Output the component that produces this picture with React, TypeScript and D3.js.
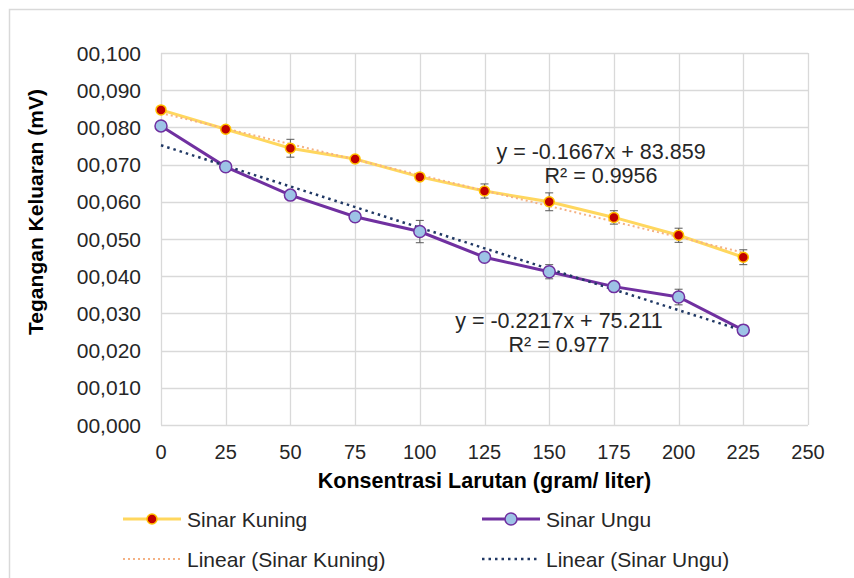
import React, { useEffect, useRef } from "react";
import * as d3 from "d3";

// concentration (gram/liter)
const konsentrasi = [0, 25, 50, 75, 100, 125, 150, 175, 200, 225];
const sinarKuning = [0.0847, 0.0795, 0.0744, 0.0715, 0.0667, 0.0629, 0.06, 0.0558, 0.051, 0.0451];
const errKuning = [0.0008, 0.0005, 0.0024, 0.0005, 0.0005, 0.0019, 0.0024, 0.0018, 0.0019, 0.002];
const sinarUngu = [0.0804, 0.0694, 0.0618, 0.056, 0.052, 0.0451, 0.0412, 0.0372, 0.0344, 0.0255];
const errUngu = [0.0005, 0.0005, 0.0005, 0.0005, 0.003, 0.0005, 0.0019, 0.0005, 0.0021, 0.0013];

// trendlines as labelled on the chart (y in mV * 1e-3)
const trendKuning = { slope: -0.1667, intercept: 83.859 };
const trendUngu = { slope: -0.2217, intercept: 75.211 };

const xTicks = [0, 25, 50, 75, 100, 125, 150, 175, 200, 225, 250];
const yTicks = [0, 0.01, 0.02, 0.03, 0.04, 0.05, 0.06, 0.07, 0.08, 0.09, 0.1];
const yTickLabels = ["00,000", "00,010", "00,020", "00,030", "00,040", "00,050", "00,060", "00,070", "00,080", "00,090", "00,100"];

const FONT = "'Liberation Sans', Arial, Helvetica, sans-serif";

export default function App() {
  const svgRef = useRef<SVGSVGElement>(null);

  useEffect(() => {
    const width = 854;
    const height = 578;
    const svg = d3.select(svgRef.current).attr("width", width).attr("height", height);
    svg.selectAll("*").remove();

    const x = d3.scaleLinear().domain([0, 250]).range([161, 808]);
    const y = d3.scaleLinear().domain([0, 0.1]).range([425, 53]);

    svg
      .append("rect")
      .attr("x", 9.5)
      .attr("y", 9.5)
      .attr("width", 900)
      .attr("height", 600)
      .attr("fill", "white")
      .attr("stroke", "#d9d9d9")
      .attr("stroke-width", 1.5);

    // grid
    svg
      .append("g")
      .selectAll("line")
      .data(yTicks)
      .enter()
      .append("line")
      .attr("x1", x(0))
      .attr("x2", x(250))
      .attr("y1", (d) => Math.round(y(d)) + 0.5)
      .attr("y2", (d) => Math.round(y(d)) + 0.5)
      .attr("stroke", "#d9d9d9")
      .attr("stroke-width", 1.3);
    svg
      .append("g")
      .selectAll("line")
      .data(xTicks)
      .enter()
      .append("line")
      .attr("x1", (d) => Math.round(x(d)) + 0.5)
      .attr("x2", (d) => Math.round(x(d)) + 0.5)
      .attr("y1", y(0.1))
      .attr("y2", y(0))
      .attr("stroke", "#d9d9d9")
      .attr("stroke-width", 1.3);

    // tick labels
    svg
      .append("g")
      .selectAll("text")
      .data(yTicks)
      .enter()
      .append("text")
      .attr("x", 141)
      .attr("y", (d) => y(d) + 7.5)
      .attr("text-anchor", "end")
      .style("font-family", FONT)
      .style("font-size", "21px")
      .attr("fill", "#262626")
      .text((d, i) => yTickLabels[i]);
    svg
      .append("g")
      .selectAll("text")
      .data(xTicks)
      .enter()
      .append("text")
      .attr("x", (d) => x(d))
      .attr("y", 459)
      .attr("text-anchor", "middle")
      .style("font-family", FONT)
      .style("font-size", "20px")
      .attr("fill", "#262626")
      .text((d) => d);

    // axis titles
    svg
      .append("text")
      .attr("x", (x(0) + x(250)) / 2)
      .attr("y", 488)
      .attr("text-anchor", "middle")
      .style("font-family", FONT)
      .style("font-size", "21.5px")
      .style("font-weight", "bold")
      .text("Konsentrasi Larutan (gram/ liter)");
    svg
      .append("text")
      .attr("transform", "translate(43, 212) rotate(-90)")
      .attr("text-anchor", "middle")
      .style("font-family", FONT)
      .style("font-size", "21px")
      .style("font-weight", "bold")
      .text("Tegangan Keluaran (mV)");

    const line = d3
      .line<number>()
      .x((d, i) => x(konsentrasi[i]))
      .y((d) => y(d));

    svg.append("path").attr("d", line(sinarKuning)).attr("fill", "none").attr("stroke", "#ffd75e").attr("stroke-width", 3);
    svg.append("path").attr("d", line(sinarUngu)).attr("fill", "none").attr("stroke", "#7030a0").attr("stroke-width", 3);

    // trendlines
    const xEnds = d3.extent(konsentrasi) as [number, number];
    const trend = (t: { slope: number; intercept: number }) =>
      d3
        .line<number>()
        .x((d) => x(d))
        .y((d) => y((t.slope * d + t.intercept) / 1000))(xEnds);
    svg
      .append("path")
      .attr("d", trend(trendKuning))
      .attr("fill", "none")
      .attr("stroke", "#f4b183")
      .attr("stroke-width", 2)
      .attr("stroke-dasharray", "2 3");
    svg
      .append("path")
      .attr("d", trend(trendUngu))
      .attr("fill", "none")
      .attr("stroke", "#203864")
      .attr("stroke-width", 2.5)
      .attr("stroke-dasharray", "2.5 4");

    // error bars
    const errorBars = (vals: number[], errs: number[]) => {
      const g = svg.append("g").attr("stroke", "#595959").attr("stroke-width", 1);
      vals.forEach((v, i) => {
        const cx = x(konsentrasi[i]);
        const y1 = y(v + errs[i]);
        const y2 = y(v - errs[i]);
        g.append("line").attr("x1", cx).attr("x2", cx).attr("y1", y1).attr("y2", y2);
        g.append("line").attr("x1", cx - 4).attr("x2", cx + 4).attr("y1", y1).attr("y2", y1);
        g.append("line").attr("x1", cx - 4).attr("x2", cx + 4).attr("y1", y2).attr("y2", y2);
      });
    };
    errorBars(sinarKuning, errKuning);
    errorBars(sinarUngu, errUngu);

    // markers
    svg
      .append("g")
      .selectAll("circle")
      .data(sinarKuning)
      .enter()
      .append("circle")
      .attr("cx", (d, i) => x(konsentrasi[i]))
      .attr("cy", (d) => y(d))
      .attr("r", 5)
      .attr("fill", "#c00000")
      .attr("stroke", "#ffc000")
      .attr("stroke-width", 1.5);
    svg
      .append("g")
      .selectAll("circle")
      .data(sinarUngu)
      .enter()
      .append("circle")
      .attr("cx", (d, i) => x(konsentrasi[i]))
      .attr("cy", (d) => y(d))
      .attr("r", 6)
      .attr("fill", "#9dc3e6")
      .attr("stroke", "#7030a0")
      .attr("stroke-width", 1.5);

    // equations
    const eq = (lines: string[], cx: number, y0: number) => {
      lines.forEach((t, i) => {
        svg
          .append("text")
          .attr("x", cx)
          .attr("y", y0 + i * 24)
          .attr("text-anchor", "middle")
          .style("font-family", FONT)
          .style("font-size", "21.5px")
          .attr("fill", "#262626")
          .text(t);
      });
    };
    eq(["y = -0.1667x + 83.859", "R² = 0.9956"], 601, 159);
    eq(["y = -0.2217x + 75.211", "R² = 0.977"], 559, 328);

    // legend
    const legend = [
      { label: "Sinar Kuning", x0: 123, y0: 519, color: "#ffd75e", dash: null, w: 3, marker: ["#c00000", "#ffc000", 5] },
      { label: "Sinar Ungu", x0: 482, y0: 519, color: "#7030a0", dash: null, w: 3, marker: ["#9dc3e6", "#7030a0", 6] },
      { label: "Linear (Sinar Kuning)", x0: 123, y0: 559, color: "#f4b183", dash: "2 3", w: 2, marker: null },
      { label: "Linear (Sinar Ungu)", x0: 482, y0: 559, color: "#203864", dash: "2.5 4", w: 2.5, marker: null },
    ];
    legend.forEach((l) => {
      const g = svg.append("g");
      g.append("line")
        .attr("x1", l.x0)
        .attr("x2", l.x0 + 58)
        .attr("y1", l.y0)
        .attr("y2", l.y0)
        .attr("stroke", l.color)
        .attr("stroke-width", l.w)
        .attr("stroke-dasharray", l.dash);
      if (l.marker) {
        g.append("circle")
          .attr("cx", l.x0 + 29)
          .attr("cy", l.y0)
          .attr("r", l.marker[2] as number)
          .attr("fill", l.marker[0] as string)
          .attr("stroke", l.marker[1] as string)
          .attr("stroke-width", 1.5);
      }
      g.append("text")
        .attr("x", l.x0 + 64)
        .attr("y", l.y0 + 7.5)
        .style("font-family", FONT)
        .style("font-size", "21px")
        .attr("fill", "#262626")
        .text(l.label);
    });
  }, []);

  return (
    <div style={{ position: "absolute", left: 0, top: 0 }}>
      <svg ref={svgRef}></svg>
    </div>
  );
}
